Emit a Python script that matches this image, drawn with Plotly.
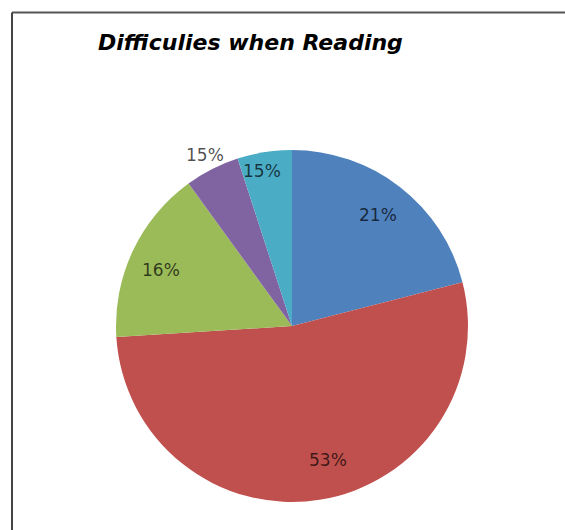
import math
import plotly.graph_objects as go

# ---- data ----
categories = ["A", "B", "C", "D", "E"]
values = [21, 53, 16, 5, 5]
label_texts = ["21%", "53%", "16%", "15%", "15%"]
colors = ["#4F81BD", "#C0504D", "#9BBB59", "#8064A2", "#4BACC6"]
title_text = "Difficulies when Reading"

# ---- layout constants ----
W, H = 565, 530
CX, CY, R = 292, 326, 176
label_r = [0.80, 0.79, 0.81, 1.09, 0.90]
label_shift_deg = [0, -6, -2, 0, -2]

fig = go.Figure()
fig.add_trace(go.Pie(
    labels=categories,
    values=values,
    sort=False,
    direction="clockwise",
    rotation=0,
    marker=dict(colors=colors, line=dict(width=0)),
    textinfo="none",
    hoverinfo="label+value",
    showlegend=False,
    domain=dict(x=[(CX - R) / W, (CX + R) / W], y=[1 - (CY + R) / H, 1 - (CY - R) / H]),
))

# labels positioned near slice mid-angles, derived from the data
total = sum(values)
cum = 0
annotations = []
for v, t, rf, sh in zip(values, label_texts, label_r, label_shift_deg):
    mid = (cum + v / 2) / total * 2 * math.pi + math.radians(sh)
    cum += v
    px = CX + rf * R * math.sin(mid)
    py = CY - rf * R * math.cos(mid)
    annotations.append(dict(
        x=px / W, y=1 - py / H, xref="paper", yref="paper",
        text=t, showarrow=False,
        font=dict(family="DejaVu Sans, sans-serif", size=17, color="rgba(0,0,0,0.7)"),
        xanchor="center", yanchor="middle",
    ))

annotations.append(dict(
    x=96 / W, y=1 - 43 / H, xref="paper", yref="paper",
    text="<b><i>" + title_text + "</i></b>", showarrow=False,
    font=dict(family="DejaVu Sans, sans-serif", size=22, color="#000000"),
    xanchor="left", yanchor="middle",
))

fig.update_layout(
    width=W, height=H,
    margin=dict(l=0, r=0, t=0, b=0),
    paper_bgcolor="white",
    plot_bgcolor="white",
    annotations=annotations,
    shapes=[
        dict(type="line", xref="paper", yref="paper", x0=12 / W, x1=1, y0=1 - 12.5 / H, y1=1 - 12.5 / H,
             line=dict(color="#555555", width=2)),
        dict(type="line", xref="paper", yref="paper", x0=12 / W, x1=12 / W, y0=1 - 12.5 / H, y1=0,
             line=dict(color="#444444", width=2)),
    ],
)

fig.write_html(
    "out.html",
    config={"displayModeBar": False},
    post_script="document.body.style.margin='0px';document.body.style.overflow='hidden';",
)
